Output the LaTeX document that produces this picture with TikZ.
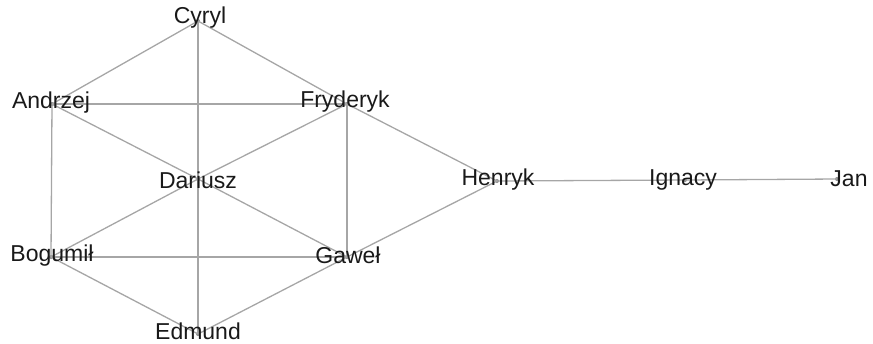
\documentclass[tikz,border=0pt]{standalone}
\usepackage{fontspec}
\setmainfont{Liberation Sans}
\begin{document}
\begin{tikzpicture}[x=1bp,y=-1bp,
  edge/.style={draw=black!35,line width=1.3bp},
  vdot/.style={circle,fill=black!45,inner sep=0pt,minimum size=4bp},
  lab/.style={text=black!90,font=\fontsize{23bp}{25bp}\selectfont,inner sep=0pt,anchor=center}]
\useasboundingbox (0,0) rectangle (873,343);
% vertex points
\node[vdot] (C) at (198,21) {};
\node[vdot] (A) at (52,104) {};
\node[vdot] (F) at (347,104) {};
\node[vdot] (D) at (198,179) {};
\node[vdot] (B) at (51,257) {};
\node[vdot] (G) at (347,257) {};
\node[vdot] (E) at (198,334) {};
\node[vdot] (H) at (497,181) {};
\node[vdot] (I) at (685,180) {};
\node[vdot] (J) at (837,179) {};
% edges
\foreach \u/\v in {C/A,C/F,C/D,A/F,A/D,A/B,F/D,F/G,F/H,D/B,D/G,D/E,B/G,B/E,G/E,G/H,H/I,I/J}
  \draw[edge] (\u.center) -- (\v.center);
% labels
\node[lab] (Cl) at (200,18) {Cyryl};
\node[lab] (Al) at (51,103) {Andrzej};
\node[lab] (Fl) at (345,102) {Fryderyk};
\node[lab] (Dl) at (198,180) {Dariusz};
\node[lab] (Bl) at (52,256) {Bogumił};
\node[lab] (Gl) at (348,255) {Gaweł};
\node[lab] (El) at (198,331) {Edmund};
\node[lab] (Hl) at (498,180) {Henryk};
\node[lab] (Il) at (683,180) {Ignacy};
\node[lab] (Jl) at (849,179) {Jan};
\end{tikzpicture}
\end{document}
